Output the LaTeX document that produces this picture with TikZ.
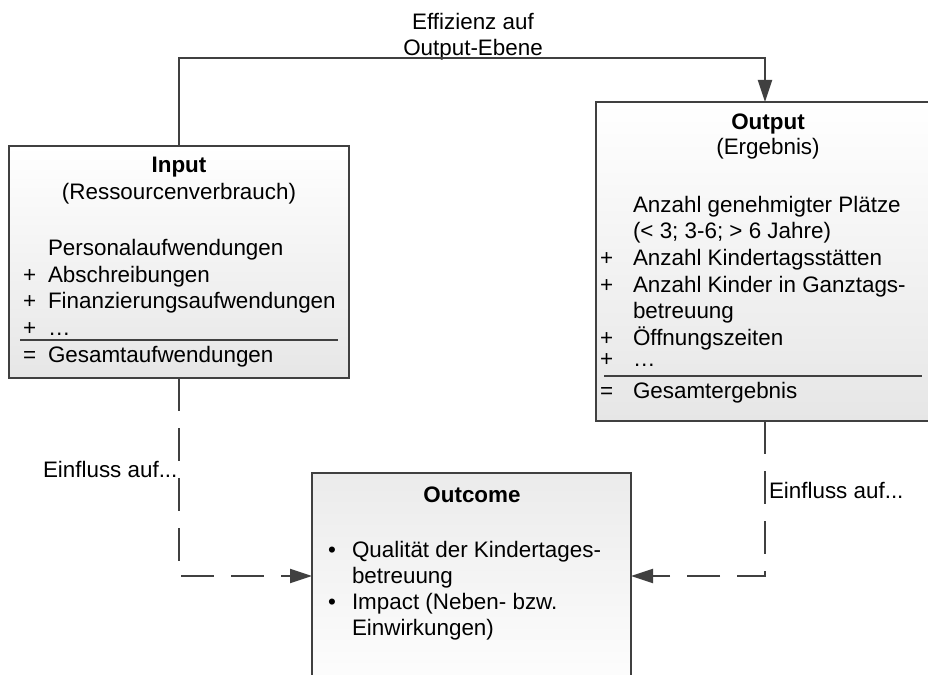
\documentclass[tikz,border=0pt]{standalone}
\usepackage{fontspec}
\setmainfont{Liberation Sans}
\usetikzlibrary{arrows.meta}
\definecolor{lc}{HTML}{404040}
\definecolor{sh}{HTML}{E6E6E6}
\begin{document}
\begin{tikzpicture}[x=1pt,y=-1pt,
  every node/.style={font=\fontsize{22.4pt}{26.8pt}\selectfont, inner sep=0pt, outer sep=0pt, text=black},
  boxn/.style={draw=lc, line width=2pt, anchor=north west},
  txt/.style={anchor=base west},
  ctr/.style={anchor=base},
  lowrow/.style={text height=11pt, text depth=0pt},
  conn/.style={draw=lc, line width=2pt},
  arr/.style={-{Triangle[length=22pt,width=14pt]}},
  dsh/.style={dash pattern=on 33pt off 17pt},
  sepline/.style={draw=lc, line width=1.5pt}]
\useasboundingbox (0,0) rectangle (928,674);
\clip (0,0) rectangle (928,674);

% boxes
\node[boxn, top color=white, bottom color=sh, minimum width=340pt, minimum height=232pt] (input) at (9,146) {};
\node[boxn, top color=white, bottom color=sh, minimum width=338pt, minimum height=319pt] (output) at (596,102) {};
\node[boxn, top color=sh!80, bottom color=white, minimum width=319pt, minimum height=230pt] (outcome) at (312,473) {};

% input text
\node[ctr] (inT) at (179,172) {\bfseries Input};
\node[ctr] (inS) at (179,199) {(Ressourcenverbrauch)};
\node[txt] (in1) at (48,255) {Personalaufwendungen};
\node[txt] (in2p) at (23,282) {+};
\node[txt] (in2) at (48,282) {Abschreibungen};
\node[txt] (in3p) at (23,308) {+};
\node[txt] (in3) at (48,308) {Finanzierungsaufwendungen};
\node[txt, lowrow] (in4p) at (23,335) {+};
\node[txt, lowrow] (in4) at (48,335) {…};
\draw[sepline] (20,340) -- (338,340);
\node[txt] (in5p) at (23,362) {=};
\node[txt] (in5) at (48,362) {Gesamtaufwendungen};

% output text
\node[ctr] (outT) at (768,129) {\bfseries Output};
\node[ctr] (outS) at (768,154) {(Ergebnis)};
\node[txt] (o1) at (633,212) {Anzahl genehmigter Plätze};
\node[txt] (o1b) at (633,238) {(< 3; 3-6; > 6 Jahre)};
\node[txt] (o2p) at (600,265) {+};
\node[txt] (o2) at (633,265) {Anzahl Kindertagsstätten};
\node[txt] (o3p) at (600,292) {+};
\node[txt] (o3) at (633,292) {Anzahl Kinder in Ganztags-};
\node[txt] (o3b) at (633,318) {betreuung};
\node[txt] (o4p) at (600,345) {+};
\node[txt] (o4) at (633,345) {Öffnungszeiten};
\node[txt, lowrow] (o5p) at (600,366) {+};
\node[txt, lowrow] (o5) at (633,366) {…};
\draw[sepline] (604,376) -- (922,376);
\node[txt] (o6p) at (600,398) {=};
\node[txt] (o6) at (633,398) {Gesamtergebnis};

% outcome text
\node[ctr] (ocT) at (472,502) {\bfseries Outcome};
\node[ctr] (b1) at (332,557) {•};
\node[txt] (oc1) at (352,557) {Qualität der Kindertages-};
\node[txt] (oc1b) at (352,583) {betreuung};
\node[ctr] (b2) at (332,609) {•};
\node[txt] (oc2) at (352,609) {Impact (Neben- bzw.};
\node[txt] (oc2b) at (352,635) {Einwirkungen)};

% connectors
\coordinate (topmid) at (473,58);
\node[align=center, anchor=south] (eff) at (473,60.5) {Effizienz auf\\Output-Ebene};
\draw[conn, arr] (input.north) |- (topmid) -| (output.north);

\coordinate (cornerL) at (179,576);
\coordinate (cornerR) at (765,576);
\draw[conn, dsh, arr] (input.south) -- (cornerL) -- (cornerL -| outcome.west);
\draw[conn, dsh, arr] (output.south) -- (cornerR) -- (cornerR -| outcome.east);

\node[txt] (einL) at (43,477) {Einfluss auf...};
\node[txt] (einR) at (769,498) {Einfluss auf...};
\end{tikzpicture}
\end{document}
